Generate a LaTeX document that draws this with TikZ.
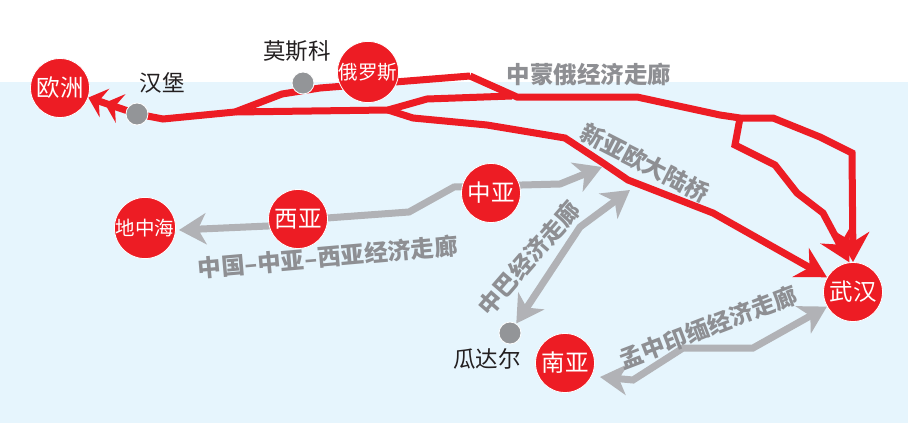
\documentclass[tikz,border=0pt]{standalone}
\usepackage{fontspec}
\newfontfamily\cjk{Noto Sans CJK SC}
\usetikzlibrary{arrows.meta}
\pgfdeclarelayer{back}
\pgfdeclarelayer{mid}
\pgfsetlayers{back,mid,main}
\definecolor{rd}{HTML}{ED1C24}
\definecolor{gl}{HTML}{B1B2B6}
\definecolor{gt}{HTML}{8E8F93}
\definecolor{sky}{HTML}{E6F5FD}
\definecolor{dotgrey}{HTML}{939598}
\definecolor{ink}{HTML}{231F20}
\begin{document}
\begin{tikzpicture}[x=1pt,y=-1pt,
  city/.style={circle,fill=rd,draw=white,line width=0.8pt,minimum size=59pt,inner sep=0pt,text=white,font=\cjk\fontsize{23.5}{23.5}\selectfont},
  city3/.style={city,font=\cjk\fontsize{19.5}{19.5}\selectfont},
  dotnode/.style={circle,fill=dotgrey,draw=white,line width=0.8pt,minimum size=22pt,inner sep=0pt},
  placelabel/.style={text=ink,font=\cjk\fontsize{22.5}{22.5}\selectfont,inner sep=0pt},
  routelabel/.style={text=gt,font=\cjk\bfseries\fontsize{23.5}{23.5}\selectfont,inner sep=0pt},
  redline/.style={draw=rd,line width=7pt,line join=miter},
  greyline/.style={draw=gl,line width=7pt,line join=miter},
  rtip/.style={-{Stealth[length=30pt,width=33pt,inset=10pt]}},
  dtip/.style={-{Stealth[length=17pt,width=30pt,inset=6pt]Stealth[length=17pt,width=30pt,inset=6pt]}},
  gtips/.style={{Stealth[length=27pt,width=31pt,inset=8pt]}-{Stealth[length=27pt,width=31pt,inset=8pt]}}
]
\begin{pgfonlayer}{back}
\fill[white] (0,0) rectangle (908,423);
\fill[sky] (0,82) rectangle (908,423);
\end{pgfonlayer}
\useasboundingbox (0,0) rectangle (908,423);

% nodes
\node[city] (ouzhou) at (60,88) {欧洲};
\node[city3] (eluosi) at (368,72) {俄罗斯};
\node[city] (zhongya) at (491,193) {中亚};
\node[city] (xiya) at (298,219) {西亚};
\node[city3] (dizhonghai) at (145,228) {地中海};
\node[city] (wuhan) at (853,292) {武汉};
\node[city] (nanya) at (565,363) {南亚};
\node[dotnode] (hanbao) at (137,114) {};
\node[dotnode] (mosike) at (303,83) {};
\node[dotnode] (guadaer) at (510,333) {};

\node[placelabel] (lhb) at (162,83) {汉堡};
\node[placelabel] (lmsk) at (297,51) {莫斯科};
\node[placelabel] (lgde) at (487,359) {瓜达尔};

\node[routelabel] (zmr) at (589,74) {中蒙俄经济走廊};
\node[routelabel,rotate=-27] (xyo) at (645,163) {新亚欧大陆桥};
\node[routelabel,rotate=5] (zzx) at (328,257) {中国–中亚–西亚经济走廊};
\node[routelabel,rotate=49] (zb) at (529,258) {中巴经济走廊};
\node[routelabel,rotate=21] (mzym) at (708,327) {孟中印缅经济走廊};

% coordinates
\coordinate (j1) at (388,110);
\coordinate (j2) at (235,112);
\coordinate (a1) at (163,119);
\coordinate (u1) at (282,94);
\coordinate (u2) at (320,88);
\coordinate (m1) at (470,76);
\coordinate (m2) at (517,97);
\coordinate (m3) at (637,97);
\coordinate (m4) at (720,115);
\coordinate (m5) at (740,118);
\coordinate (m6) at (773,118);
\coordinate (m7) at (820,137);
\coordinate (m8) at (852,153);
\coordinate (l2a) at (427,99);
\coordinate (l2b) at (512,96);
\coordinate (b1) at (735,145);
\coordinate (b2) at (775,165);
\coordinate (b3) at (797,193);
\coordinate (b4) at (823,213);
\coordinate (d1) at (413,118);
\coordinate (d2) at (487,125);
\coordinate (d3) at (565,138);
\coordinate (d4) at (603,163);
\coordinate (d5) at (628,180);
\coordinate (d6) at (713,213);

\coordinate (gA) at (602,167);
\coordinate (g2) at (560,184);
\coordinate (g3) at (522,185);
\coordinate (g4) at (454,187);
\coordinate (g5) at (409,212);
\coordinate (g6) at (327,218);
\coordinate (g7) at (268,226);
\coordinate (gB) at (179,230);
\coordinate (gC) at (630,190);
\coordinate (gD) at (580,227);
\coordinate (h1) at (753,348);
\coordinate (h2) at (683,348);
\coordinate (h3) at (633,380);
\coordinate (hT) at (600,377);

\begin{pgfonlayer}{mid}
% red routes
\draw[redline,dtip] (j1) -- (j2) -- (a1) -- (hanbao.center) -- (ouzhou);
\draw[redline] (j2) -- (u1) -- (u2) -- (m1);
\draw[redline,rtip] (m1) -- (m2) -- (m3) -- (m4) -- (m5) -- (m6) -- (m7) -- (m8) -- (wuhan.north);
\draw[redline] (j1) -- (l2a) -- (l2b);
\draw[redline,rtip] (m5) -- (b1) -- (b2) -- (b3) -- (b4) -- (wuhan.97);
\draw[redline,rtip] (j1) -- (d1) -- (d2) -- (d3) -- (d4) -- (d5) -- (d6) -- (wuhan);
% grey routes
\draw[greyline,gtips] (gA) -- (g2) -- (g3) -- (g4) -- (g5) -- (g6) -- (g7) -- (gB);
\draw[greyline,gtips] (gC) -- (gD) -- (guadaer);
\draw[greyline,gtips] (wuhan) -- (h1) -- (h2) -- (h3) -- (hT);
\end{pgfonlayer}
\end{tikzpicture}
\end{document}
